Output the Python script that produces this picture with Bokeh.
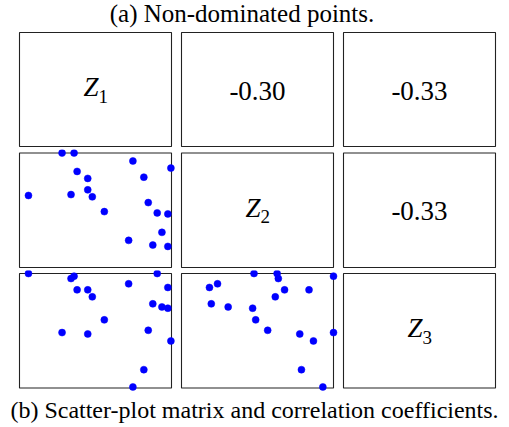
from bokeh.plotting import figure
from bokeh.layouts import column, row
from bokeh.models import Range1d, ColumnDataSource, Label
from bokeh.core.properties import value
from bokeh.embed import file_html
from bokeh.resources import INLINE

# ---------------- data ----------------
title_text = "(a) Non-dominated points."
caption_text = "(b) Scatter-plot matrix and correlation coefficients."
var_letters = ["Z", "Z", "Z"]
var_subscripts = ["1", "2", "3"]
corr_12 = "-0.30"
corr_13 = "-0.33"
corr_23 = "-0.33"

# non-dominated points (normalised objective values)
z1 = [0.059, 0.280, 0.339, 0.359, 0.379, 0.449, 0.449, 0.479, 0.558, 0.718,
      0.746, 0.818, 0.847, 0.877, 0.906, 0.937, 0.976, 0.976, 0.996]
z2 = [0.629, 1.000, 0.637, 1.000, 0.839, 0.778, 0.678, 0.617, 0.488, 0.237,
      0.930, 0.789, 0.567, 0.196, 0.477, 0.307, 0.468, 0.184, 0.868]
z3 = [1.000, 0.484, 0.956, 0.977, 0.857, 0.472, 0.857, 0.796, 0.595, 0.910,
      0.009, 0.160, 0.504, 0.735, 1.000, 0.708, 0.697, 0.878, 0.411]

# ---------------- layout / style ----------------
FONT_NAME = "Liberation Serif"
BOX_W = 152
PAD_L = [19, 5, 5]
PAD_R = [5, 5, 5]
BOX_H = [114, 114.5, 114.5]
PAD_T = [3, 3.5, 3]
PAD_B = [3, 3, 3.5]
TOTAL_W = sum(PAD_L) + sum(PAD_R) + 3 * BOX_W
TITLE_H = 29
CAPTION_H = 36

cols = [z1, z2, z3]
corr = {(0, 1): corr_12, (0, 2): corr_13, (1, 2): corr_23}


def bare(width, height, xr, yr):
    p = figure(width=width, height=height, x_range=xr, y_range=yr,
               output_backend="svg", toolbar_location=None,
               x_axis_location=None, y_axis_location=None,
               min_border=0, min_border_left=0, min_border_right=0,
               min_border_top=0, min_border_bottom=0)
    p.outline_line_color = None
    p.grid.visible = False
    p.background_fill_color = "white"
    p.border_fill_color = "white"
    return p


def label(p, x, y, text, size, style="normal", align="center", xo=0, yo=0):
    p.add_layout(Label(x=x, y=y, text=text, text_font=FONT_NAME,
                       text_font_size=size, text_font_style=style,
                       text_align=align, text_baseline="middle",
                       x_offset=xo, y_offset=yo, text_color="black"))


rows = []
for i in range(3):
    figs = []
    for j in range(3):
        w = PAD_L[j] + BOX_W + PAD_R[j]
        h = int(round(PAD_T[i] + BOX_H[i] + PAD_B[i]))
        xr = Range1d(-PAD_L[j] / BOX_W, 1 + PAD_R[j] / BOX_W)
        yr = Range1d(-PAD_B[i] / BOX_H[i], 1 + PAD_T[i] / BOX_H[i])
        p = bare(w, h, xr, yr)
        p.quad(left=[0], right=[1], bottom=[0], top=[1], fill_color=None,
               line_color="#222222", line_width=1.1)
        if i == j:
            label(p, 0.5, 0.5, var_letters[i], "27px", "italic", "right", 3, 2.5)
            label(p, 0.5, 0.5, var_subscripts[i], "19px", "normal", "left", 3, -6.5)
        elif i < j:
            label(p, 0.5, 0.5, corr[(i, j)], "27px", yo=-1)
        else:
            src = ColumnDataSource(dict(x=cols[j], y=cols[i]))
            p.scatter(x="x", y="y", source=src, size=7, fill_color="#0000ff",
                      line_color="#0000ff", line_width=0.5)
        figs.append(p)
    rows.append(row(*figs))

# title
tp = bare(TOTAL_W, TITLE_H, Range1d(0, TOTAL_W), Range1d(0, TITLE_H))
label(tp, 241.5, TITLE_H - 13, title_text, "25px")

# caption
cp = bare(TOTAL_W, CAPTION_H, Range1d(0, TOTAL_W), Range1d(0, CAPTION_H))
label(cp, 254, CAPTION_H - 18, caption_text, "24px")

layout = column(tp, *rows, cp)

open("out.html", "w").write(file_html(layout, INLINE))
